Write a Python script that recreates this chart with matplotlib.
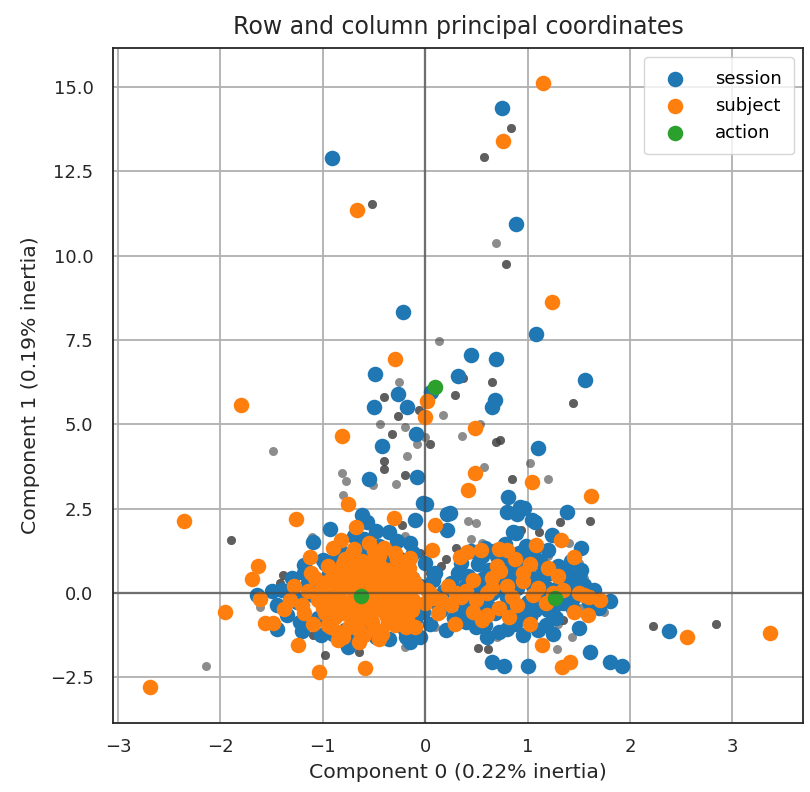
import numpy as np
import matplotlib
matplotlib.use("Agg")
import matplotlib.pyplot as plt

# Row principal coordinates (n = number of identical rows at that spot)
row_x = [0.84, 0.57, -0.52, 0.69, 0.79, 0.13, -0.26, 0.29, -0.40, -0.27, -0.06, 0.17, -0.44, -0.20,
         -0.32, 0.00, 0.05, -0.08, -1.49, -0.18, -0.40, -0.40, -0.81, -0.77, -0.20, -0.29, -0.51,
         1.44, 0.37, 0.65, 0.53, 0.36, 0.69, 0.73, 1.02, 0.57, 0.85, 1.20,
         -2.14, -0.98, -0.65, 0.52, 0.61, 1.29, 1.43, 1.35, 1.75, 2.22, 2.84, -1.90, -1.39, -1.42,
         -1.61, -1.10, -0.86, -0.23, 0.42, 0.50, 1.61, 1.32, 0.94, 1.11, -1.11,
         -0.80, 0.20, 0.05, 0.30, 0.35, 1.00, 1.10, 0.90, 1.20, 1.40, 1.50, 0.60, 0.00, -0.30,
         -0.50, -1.00, 1.30, 0.75, 0.85, 1.55, 1.60, -0.20, -0.70, 0.45, -0.05, 1.05,
         -0.90, -0.70, -0.35, -0.10, 0.10, 0.15, 0.45, 0.62, 0.82, 1.08, 1.20, 1.38, 1.45, 1.52,
         0.55, 0.30, -0.60, -1.20, -0.20, 0.70]
row_y = [13.79, 12.93, 11.53, 10.38, 9.75, 7.48, 6.26, 5.87, 5.82, 5.26, 5.43, 5.28, 5.01, 4.93,
         4.71, 4.63, 4.42, 4.42, 4.22, 4.06, 3.92, 3.68, 3.57, 3.31, 3.50, 3.23, 3.20,
         5.64, 6.37, 6.26, 5.00, 4.66, 4.49, 4.54, 3.86, 3.74, 3.37, 3.37,
         -2.15, -1.84, -1.75, -1.63, -1.67, -1.66, -1.29, -0.80, -0.56, -0.98, -0.92, 1.57, 0.55, 0.31,
         -0.41, -1.25, 0.98, 2.02, 2.14, 2.08, 2.14, 2.11, 1.87, 1.82, 1.66,
         2.90, 1.00, 0.60, 0.40, 0.70, 0.90, 0.30, -0.30, 1.10, 1.50, 0.90, -1.00, -0.60, 0.20,
         0.90, 0.80, -0.90, 0.95, 0.20, 0.45, -0.10, -1.60, -0.55, 1.60, 1.20, -0.45,
         -0.30, 0.40, -0.20, 0.50, -1.00, 0.80, 0.25, 0.30, -0.55, 0.60, 0.25, -0.20, 0.30, -0.45,
         1.50, 1.35, -0.70, -0.10, 1.70, -1.30]
row_n = [2, 2, 2, 1, 2, 1, 1, 2, 2, 2, 2, 1, 1, 1,
         2, 1, 2, 1, 1, 1, 2, 2, 1, 1, 2, 1, 1,
         2, 2, 2, 1, 1, 2, 2, 1, 1, 2, 1,
         1, 2, 2, 2, 2, 1, 1, 2, 1, 2, 2, 2, 2, 2,
         1, 2, 2, 2, 1, 1, 2, 2, 2, 2, 1,
         1, 2, 2, 1, 2, 2, 2, 1, 1, 1, 1, 1, 2, 1,
         2, 1, 1, 2, 1, 1, 1, 1, 2, 1, 2, 1,
         2, 1, 2, 1, 1, 2, 2, 1, 2, 1, 2, 1, 2, 1,
         1, 2, 1, 2, 1, 1]

# Column principal coordinates, one group per variable
session_x = [-0.91, 0.75, 0.89, -0.22, 1.08, 0.45, 0.69, 1.56, -0.49, 0.32, 0.06, -0.27, -0.50, -0.18,
             0.68, 0.65, -0.09, -0.42, 1.10, -0.55, -0.08, 0.01,
             -0.62, -0.57, -0.10, -0.02, 0.21, 0.21, 0.24, 0.81, 0.93, 0.80, 0.90, 1.04, 0.86, 1.24,
             1.20, 1.38, 0.96, 1.07, 0.89, -0.93, -1.10, 1.52, 1.50, -1.18, -1.18, -1.00,
             2.38, 1.50, 1.80, 1.61, 1.80, 1.92, 0.65, 0.77, 1.00, -0.75, -1.20, -1.64, -0.19, -0.44,
             0.35, 0.42, 0.48, 0.55, 0.38, 0.62, 0.70, 0.75, 0.80, 0.68, 0.85, 0.92, 0.95, 0.88,
             1.00, 1.05, 1.10, 1.02, 1.15, 1.20, 1.25, 1.30, 1.35, 1.40, 1.45, 0.58, 0.78, 0.98,
             0.50, 0.72, 0.95, 1.18, 0.30, 0.25, 0.15, 0.05, 0.20, -0.05, 0.10, -0.15, 1.60, 1.55,
             1.42, 1.28, 0.45, 0.60, 0.40, 0.65, 1.12, 0.82, 0.52,
             -1.25, -1.15, -1.05, -0.95, -0.90, -0.80, -0.75, -0.65, -0.55, -0.45, -0.40, -0.35,
             -0.25, -0.20, -0.30, -0.10, -0.60, -0.85, -0.50, -1.35, -1.40, -0.70, -0.15, -0.35,
             -0.05, 0.00, -1.45, -1.30, -0.98, -0.72,
             0.32, 0.40, 0.45, 0.52, 0.57, 0.60, 0.63, 0.67, 0.72, 0.77, 0.81, 0.84, 0.87, 0.90,
             0.93, 0.97, 1.00, 1.03, 1.07, 1.12, 1.14, 1.17, 1.22, 1.27, 1.32, 1.37, 1.43, 1.48,
             1.52, 0.55, 0.75, 0.92, 1.05, 0.40, 0.58, 0.80, 1.10, 0.28, 0.18, 0.12, 0.08, -0.02,
             1.65, 1.70, 1.25,
             -1.30, -1.22, -1.10, -1.02, -0.98, -0.88, -0.78, -0.62, -0.48, -0.38, -0.22, -0.12,
             -1.45, -1.50, -0.70, -0.48, -0.28, -0.15, -0.35]
session_y = [12.90, 14.38, 10.94, 8.34, 7.68, 7.06, 6.93, 6.31, 6.49, 6.43, 5.97, 5.89, 5.52, 5.52,
             5.72, 5.52, 4.71, 4.36, 4.29, 3.37, 3.43, 2.65,
             2.31, 2.11, 2.16, 2.66, 2.36, 1.87, 2.39, 2.86, 2.56, 2.41, 2.36, 2.16, 1.82, 1.72,
             1.29, 2.41, 2.51, 2.11, 1.77, 1.89, 1.52, 1.35, 0.53, 0.83, 0.59, 0.98,
             -1.13, -1.03, -0.23, -1.74, -2.04, -2.16, -2.04, -2.16, -2.15, -1.59, -1.12, -0.06, -1.29, -1.18,
             0.90, 0.50, 0.10, -0.30, -0.60, 0.70, 1.10, 0.30, -0.10, -0.60, 0.80, 0.40, -0.40, -0.90,
             1.00, 0.20, -0.20, -0.70, 0.60, -0.50, 0.10, 0.80, -0.30, 0.40, -0.10, 1.35, 1.45, 1.40,
             -1.00, -1.15, -1.25, -0.95, -0.25, 0.30, -0.50, -0.90, -1.10, 0.20, 0.60, -0.30, -0.25, 0.25,
             0.95, -0.75, 1.25, -1.30, -0.20, 0.00, 0.00, 0.55, 0.35,
             -0.25, 0.30, -0.75, 0.50, -1.20, 1.20, -0.40, 0.90, -1.00, 1.40, 0.60, -0.70,
             1.00, -1.10, 0.20, -0.80, 1.60, -0.10, 0.30, -0.65, 0.10, -1.40, 1.50, 1.80,
             -1.30, 0.90, -1.05, 0.00, -0.30, -0.95,
             0.60, 0.20, -0.35, 0.85, 0.45, -0.10, -0.45, 1.25, 0.55, 0.05, -0.35, 0.95, 0.55, 0.15,
             -0.65, 0.70, -0.25, 0.45, -0.50, 0.95, 0.30, -0.15, 0.60, -0.35, 0.25, 0.65, -0.40, 0.20,
             0.70, 1.10, 1.20, 1.20, 1.25, -0.85, -0.95, -1.05, -1.10, -0.75, 0.05, -0.35, 0.40, -0.55,
             0.10, -0.45, -1.20,
             0.45, -0.85, -0.05, -1.25, 0.90, 1.00, -1.10, 1.25, -1.30, 1.05, -0.95, 1.20,
             -0.35, 0.05, 1.70, 1.85, 1.55, -1.45, -1.35]

subject_x = [1.15, 0.76, -0.67, 1.24, -0.30, 0.02, 0.00, -1.80, -0.81, 0.49, 0.49, 1.04, 0.42, 1.62,
             -2.36, -1.26, -1.63, -1.69, -1.61, -1.96, -1.57, -1.49, -1.38, -1.13, -0.82, -0.75,
             -0.68, -0.31, 0.10,
             -2.69, -1.04, -0.59, -1.24, 1.14, 1.34, 1.41, 1.59, 1.71, 1.02, 2.56, 3.37, 0.29, 0.47,
             0.22, 0.47, 1.33, 1.45, 1.08, 0.34, 0.41, 0.54, 0.72, 0.80, 0.07, 0.65, 0.73, 1.20,
             -1.05, -1.00, -0.98, -0.95, -0.92, -0.88, -0.85, -0.82, -0.80, -0.78, -0.75, -0.72,
             -0.70, -0.68, -0.65, -0.62, -0.60, -0.58, -0.55, -0.52, -0.50, -0.48, -0.45, -0.42,
             -0.40, -0.38, -0.35, -0.32, -0.30, -0.28, -0.25, -0.22, -0.20, -0.18, -0.15, -0.12,
             -0.10, -0.08, -0.90, -0.70, -0.55, -0.40, -0.65, -0.85, -1.10, -1.12, -1.20, -0.30,
             -0.15, 0.00, -0.95, -0.60, -0.45, -0.78, -0.35, -0.68, -0.88, -0.52,
             0.05, 0.15, 0.35, 0.60, 0.85, 1.05, 1.25, 1.50, 1.45, 0.72, 0.95, 1.30, 0.55, 0.12,
             0.30, 1.60,
             -1.02, -0.97, -0.93, -0.90, -0.87, -0.84, -0.81, -0.79, -0.76, -0.74, -0.71, -0.69,
             -0.66, -0.64, -0.61, -0.59, -0.57, -0.54, -0.51, -0.49, -0.46, -0.44, -0.41, -0.39,
             -0.36, -0.34, -0.31, -0.29, -0.26, -0.24, -0.21, -0.19, -0.16, -0.13, -0.11, -0.85,
             -0.60, -0.45, -0.95, -1.00, -1.08, -0.72, -0.50, -0.28, -0.62, -0.80, -0.56, -0.67,
             -0.77, -0.88, -0.53, -0.43, -0.33, -0.23, -0.73, -0.63, -0.83, -0.93, -1.15, -1.18,
             -1.28, -1.32, -0.18, 0.02, 0.10, 0.25, 0.40, 0.50, 0.65, 0.80, 0.90, 1.10, 1.18, 1.35,
             1.55, 0.95, 0.70, 0.88, 1.02, 0.60, 0.82]
subject_y = [15.12, 13.40, 11.36, 8.64, 6.93, 5.70, 5.21, 5.57, 4.66, 4.91, 3.57, 3.30, 3.07, 2.87,
             2.13, 2.19, 0.80, 0.42, -0.17, -0.56, -0.88, -0.88, -0.48, 1.08, 1.57, 2.64,
             1.97, 2.22, 2.02,
             -2.78, -2.33, -2.23, -1.54, -1.54, -2.18, -2.04, -0.65, -0.21, -0.92, -1.30, -1.19, -0.92, -0.55,
             0.21, 0.39, 1.59, 1.08, 1.42, 1.08, 1.22, 1.27, 1.32, 1.27, 1.27, 0.45, 0.65, 0.75,
             -0.20, 0.30, -0.60, 0.80, -1.00, 0.00, 0.50, -0.40, -1.30, 1.00, 0.20, -0.80,
             0.60, -0.20, -1.10, 0.35, -0.50, 0.90, 0.00, -0.85, 0.55, -0.30, 1.10, -1.20,
             0.20, -0.65, 0.70, -0.10, -0.95, 0.40, -0.45, 0.90, 0.05, -0.75, 0.50, -0.20,
             -1.00, 0.20, 1.35, 1.30, 1.50, 1.35, -1.45, -1.40, -0.90, 0.60, -0.35, 1.20,
             1.05, -0.30, -0.35, 0.05, -0.05, 0.45, 0.25, 0.80, -0.70, -0.55,
             0.00, -0.20, -0.10, 0.00, -0.10, -0.05, 0.00, 0.00, -0.55, -0.45, 0.60, 0.50, -0.80, -0.60,
             0.00, -0.10,
             0.10, -0.35, 0.40, -0.75, 0.65, -0.20, 0.25, -0.60, 0.45, -1.00, 0.05, -0.45,
             0.70, -0.75, 0.15, -0.25, 0.50, -0.60, 0.25, -1.05, -0.10, 0.80, -0.45, 0.40,
             -0.85, 0.10, -0.35, 0.65, -0.70, 0.25, -0.25, -1.00, 0.75, -0.50, 0.35, -1.15,
             -1.25, -1.35, -0.95, -0.45, 0.45, 1.15, 1.25, 1.00, 0.95, 0.85, -0.40, -0.05,
             -0.30, -0.50, 0.05, -0.25, -0.55, -0.05, 0.30, 0.50, 0.10, -0.15, 0.05, -0.60,
             0.20, -0.20, 0.30, 0.10, -0.15, -0.35, 0.05, -0.20, 0.15, 0.20, -0.35, 0.15, -0.30, 0.10,
             -0.05, 0.35, 0.80, 1.00, 0.85, -0.65, -0.70]

action_x = [0.10, -0.63, 1.27]
action_y = [6.12, -0.09, -0.15]

fig = plt.figure(figsize=(8.1, 7.92), dpi=100)
ax = fig.add_axes([0.1395, 0.0871, 0.8519, 0.8523])

# rows first, in dark grey, then one colour per variable
ax.scatter(np.repeat(row_x, row_n), np.repeat(row_y, row_n), s=42, color="#404040",
           alpha=0.6, linewidths=0, label=None)
ax.scatter(session_x, session_y, s=125, color="#1f77b4", linewidths=0, label="session")
ax.scatter(subject_x, subject_y, s=125, color="#ff7f0e", linewidths=0, label="subject")
ax.scatter(action_x, action_y, s=125, color="#2ca02c", linewidths=0, label="action")

ax.grid(True, color="#b0b0b0", linewidth=1.3)
ax.set_axisbelow(True)
ax.axhline(y=0, linestyle="-", linewidth=1.7, color="#404040", alpha=0.6)
ax.axvline(x=0, linestyle="-", linewidth=1.7, color="#404040", alpha=0.6)

ax.set_xlim(-3.05, 3.69)
ax.set_ylim(-3.85, 16.16)
ax.set_xticks([-3, -2, -1, 0, 1, 2, 3])
ax.set_yticks([-2.5, 0.0, 2.5, 5.0, 7.5, 10.0, 12.5, 15.0])
ax.tick_params(axis="both", length=0, labelsize=13, colors="#262626")
ax.tick_params(axis="x", pad=11)
ax.tick_params(axis="y", pad=14)
for spine in ax.spines.values():
    spine.set_color("#262626")
    spine.set_linewidth(1.3)

ax.set_xlabel("Component 0 (0.22% inertia)", fontsize=14.7, color="#262626", labelpad=5)
ax.set_ylabel("Component 1 (0.19% inertia)", fontsize=14.7, color="#262626", labelpad=7)
ax.set_title("Row and column principal coordinates", fontsize=17, color="#262626", pad=10)
ax.legend(loc="upper right", fontsize=13, handletextpad=1.2, borderpad=0.7)

fig.savefig("out.png", dpi=100)
